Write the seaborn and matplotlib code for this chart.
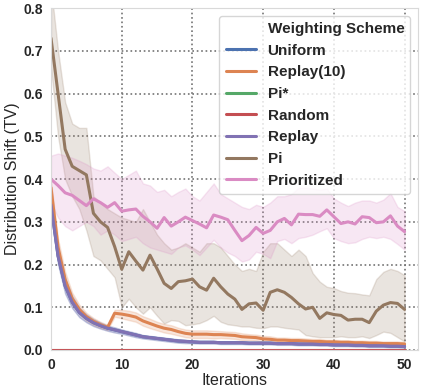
import numpy as np
import pandas as pd
import matplotlib
matplotlib.use("Agg")
import matplotlib.pyplot as plt
import seaborn as sns
from matplotlib.lines import Line2D

iterations = list(range(51))
schemes = ["Uniform", "Replay(10)", "Pi*", "Random", "Replay", "Pi", "Prioritized"]

# Replay / Uniform (identical curves)
replay_mid = [0.340, 0.220, 0.150, 0.112, 0.088, 0.074, 0.064, 0.057, 0.051, 0.047,
              0.043, 0.039, 0.035, 0.031, 0.029, 0.027, 0.025, 0.023, 0.021, 0.020,
              0.019, 0.018, 0.018, 0.018, 0.017, 0.017, 0.017, 0.017, 0.016, 0.016,
              0.016, 0.016, 0.015, 0.015, 0.015, 0.014, 0.014, 0.014, 0.013, 0.013,
              0.012, 0.012, 0.012, 0.011, 0.011, 0.010, 0.010, 0.010, 0.009, 0.009,
              0.008]
replay_err = [0.015, 0.020, 0.018, 0.014, 0.011, 0.009, 0.008, 0.007, 0.006, 0.006,
              0.005, 0.005, 0.005, 0.004, 0.004, 0.004, 0.004, 0.004, 0.004, 0.004,
              0.003, 0.003, 0.003, 0.003, 0.003, 0.003, 0.003, 0.003, 0.003, 0.003,
              0.003, 0.003, 0.003, 0.003, 0.003, 0.003, 0.003, 0.003, 0.003, 0.003,
              0.003, 0.003, 0.003, 0.003, 0.003, 0.003, 0.003, 0.003, 0.003, 0.003,
              0.003]

replay10_mid = [0.380, 0.240, 0.165, 0.120, 0.095, 0.078, 0.067, 0.059, 0.053, 0.086,
                0.084, 0.081, 0.077, 0.068, 0.062, 0.056, 0.051, 0.048, 0.043, 0.039,
                0.037, 0.037, 0.037, 0.036, 0.036, 0.035, 0.034, 0.031, 0.030, 0.029,
                0.026, 0.025, 0.023, 0.023, 0.022, 0.022, 0.021, 0.020, 0.020, 0.019,
                0.019, 0.018, 0.018, 0.017, 0.017, 0.016, 0.016, 0.015, 0.015, 0.015,
                0.014]
replay10_err = [0.015, 0.020, 0.018, 0.014, 0.011, 0.009, 0.008, 0.007, 0.006, 0.008,
                0.010, 0.011, 0.011, 0.011, 0.011, 0.010, 0.010, 0.010, 0.009, 0.009,
                0.009, 0.009, 0.009, 0.009, 0.008, 0.008, 0.008, 0.008, 0.007, 0.007,
                0.007, 0.007, 0.006, 0.006, 0.006, 0.006, 0.006, 0.006, 0.006, 0.005,
                0.005, 0.005, 0.005, 0.005, 0.005, 0.005, 0.005, 0.005, 0.005, 0.005,
                0.005]

pi_mid = [0.730, 0.600, 0.470, 0.430, 0.420, 0.410, 0.320, 0.300, 0.287, 0.242,
          0.189, 0.230, 0.208, 0.187, 0.222, 0.190, 0.156, 0.144, 0.160, 0.162,
          0.166, 0.148, 0.140, 0.168, 0.148, 0.131, 0.119, 0.095, 0.108, 0.110,
          0.093, 0.135, 0.141, 0.135, 0.123, 0.108, 0.096, 0.100, 0.074, 0.087,
          0.083, 0.081, 0.070, 0.072, 0.072, 0.064, 0.091, 0.105, 0.111, 0.109,
          0.095]
pi_low = [0.660, 0.500, 0.400, 0.360, 0.330, 0.280, 0.220, 0.210, 0.190, 0.170,
          0.100, 0.120, 0.100, 0.085, 0.100, 0.080, 0.062, 0.070, 0.068, 0.058,
          0.060, 0.063, 0.070, 0.080, 0.066, 0.060, 0.058, 0.055, 0.055, 0.052,
          0.051, 0.055, 0.055, 0.052, 0.050, 0.048, 0.035, 0.032, 0.030, 0.030,
          0.030, 0.032, 0.030, 0.030, 0.032, 0.028, 0.035, 0.043, 0.040, 0.030,
          0.020]
pi_high = [0.850, 0.700, 0.580, 0.530, 0.520, 0.520, 0.360, 0.345, 0.330, 0.320,
           0.310, 0.305, 0.300, 0.330, 0.300, 0.270, 0.250, 0.235, 0.240, 0.250,
           0.240, 0.230, 0.250, 0.250, 0.240, 0.220, 0.200, 0.185, 0.190, 0.185,
           0.230, 0.250, 0.250, 0.235, 0.220, 0.235, 0.220, 0.180, 0.160, 0.148,
           0.145, 0.138, 0.134, 0.133, 0.130, 0.128, 0.166, 0.183, 0.190, 0.185,
           0.175]

prio_mid = [0.400, 0.385, 0.368, 0.362, 0.350, 0.338, 0.354, 0.345, 0.334, 0.345,
            0.325, 0.328, 0.330, 0.313, 0.300, 0.285, 0.310, 0.290, 0.300, 0.311,
            0.303, 0.295, 0.286, 0.316, 0.311, 0.305, 0.280, 0.256, 0.268, 0.287,
            0.273, 0.280, 0.300, 0.308, 0.293, 0.318, 0.317, 0.317, 0.313, 0.328,
            0.312, 0.296, 0.300, 0.295, 0.312, 0.310, 0.298, 0.300, 0.314, 0.290,
            0.277]
prio_low = [0.345, 0.310, 0.290, 0.280, 0.290, 0.300, 0.290, 0.270, 0.280, 0.270,
            0.255, 0.260, 0.265, 0.250, 0.240, 0.235, 0.230, 0.225, 0.240, 0.245,
            0.235, 0.222, 0.240, 0.258, 0.240, 0.228, 0.220, 0.207, 0.212, 0.230,
            0.225, 0.215, 0.255, 0.260, 0.250, 0.262, 0.265, 0.270, 0.278, 0.285,
            0.262, 0.255, 0.250, 0.252, 0.260, 0.265, 0.262, 0.265, 0.260, 0.248,
            0.235]
prio_high = [0.455, 0.460, 0.455, 0.450, 0.443, 0.435, 0.425, 0.420, 0.430, 0.415,
             0.400, 0.410, 0.420, 0.390, 0.385, 0.370, 0.375, 0.360, 0.370, 0.378,
             0.360, 0.350, 0.370, 0.390, 0.365, 0.355, 0.345, 0.335, 0.330, 0.340,
             0.335, 0.345, 0.360, 0.360, 0.365, 0.380, 0.380, 0.378, 0.375, 0.378,
             0.355, 0.345, 0.337, 0.345, 0.350, 0.350, 0.345, 0.352, 0.367, 0.335,
             0.325]

zeros = [0.0] * 51


def band(mid, err):
    low = [m - e for m, e in zip(mid, err)]
    high = [m + e for m, e in zip(mid, err)]
    return low, mid, high


curves = {
    "Uniform": band(replay_mid, replay_err),
    "Replay(10)": band(replay10_mid, replay10_err),
    "Pi*": (zeros, zeros, zeros),
    "Random": (zeros, zeros, zeros),
    "Replay": band(replay_mid, replay_err),
    "Pi": (pi_low, pi_mid, pi_high),
    "Prioritized": (prio_low, prio_mid, prio_high),
}

rows = []
for name in schemes:
    for series in curves[name]:
        for it, v in zip(iterations, series):
            rows.append({"Iterations": it, "Distribution Shift (TV)": v,
                         "Weighting Scheme": name})
df = pd.DataFrame(rows)

sns.set_style("whitegrid", {"grid.linestyle": ":", "grid.color": "0.45",
                            "axes.edgecolor": "0.85"})
plt.rcParams["font.family"] = ["Liberation Sans", "DejaVu Sans"]

fig = plt.figure(figsize=(4.24, 3.89), dpi=100)
ax = fig.add_axes([0.1203, 0.1003, 0.8656, 0.8784])

palette = sns.color_palette("deep", 7)
sns.lineplot(data=df, x="Iterations", y="Distribution Shift (TV)",
             hue="Weighting Scheme", hue_order=schemes, palette=palette,
             estimator="median", errorbar=("pi", 100), linewidth=2.2, ax=ax)

ax.set_xlim(0, 51.9)
ax.set_ylim(0, 0.8)
ax.set_xticks([0, 10, 20, 30, 40, 50])
ax.set_yticks([0.0, 0.1, 0.2, 0.3, 0.4, 0.5, 0.6, 0.7, 0.8])
ax.set_yticklabels(["0.0", "0.1", "0.2", "0.3", "0.4", "0.5", "0.6", "0.7", "0.8"])
ax.tick_params(axis="both", labelsize=10, pad=2)
for lbl in ax.get_xticklabels() + ax.get_yticklabels():
    lbl.set_fontweight("bold")
ax.set_xlabel("Iterations", fontsize=11.5, labelpad=1)
ax.set_ylabel("Distribution Shift (TV)", fontsize=11.5, labelpad=3)
ax.grid(True, linewidth=1.2)

handles = [Line2D([], [], color="none")]
labels = ["Weighting Scheme"]
for name, col in zip(schemes, palette):
    handles.append(Line2D([], [], color=col, linewidth=2.2))
    labels.append(name)
ax.legend(handles, labels, loc="upper right", prop={"weight": "bold", "size": 11},
          labelspacing=0.5, handlelength=2.0, handletextpad=0.75,
          borderpad=0.4, frameon=True)

fig.savefig("out.png", dpi=100)
